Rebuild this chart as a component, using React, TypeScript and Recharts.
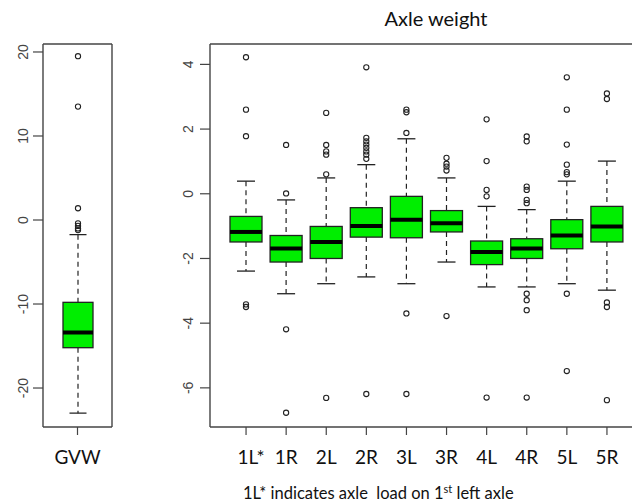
import React from 'react';
import { ComposedChart, Bar, XAxis, YAxis } from 'recharts';

// ---- Gross vehicle weight (single box) ----
const gvwNames = ['GVW'];
const gvwLowWhisker = [-23.0];
const gvwQ1 = [-15.2];
const gvwMedian = [-13.4];
const gvwQ3 = [-9.8];
const gvwHighWhisker = [-1.75];
const gvwOutliers = [[19.5, 13.5, 1.4, -0.4, -0.7, -1.0, -1.2]];
const gvwTicks = [-20, -10, 0, 10, 20];
const gvwDomain = [-24.64, 20.95];

// ---- Axle weights ----
const axleNames = ['1L*', '1R', '2L', '2R', '3L', '3R', '4L', '4R', '5L', '5R'];
const axleLowWhisker = [-2.39, -3.09, -2.78, -2.57, -2.78, -2.11, -2.88, -2.88, -2.78, -2.98];
const axleQ1 = [-1.49, -2.11, -2.0, -1.34, -1.36, -1.18, -2.19, -2.0, -1.7, -1.49];
const axleMedian = [-1.18, -1.69, -1.49, -1.0, -0.8, -0.91, -1.8, -1.69, -1.29, -1.01];
const axleQ3 = [-0.7, -1.29, -1.01, -0.43, -0.08, -0.52, -1.46, -1.39, -0.8, -0.39];
const axleHighWhisker = [0.39, -0.19, 0.49, 0.9, 1.7, 0.49, -0.39, -0.49, 0.39, 1.01];
const axleOutliers = [
  [4.22, 2.6, 1.78, -3.42, -3.5],
  [1.51, 0.01, -4.19, -6.77],
  [2.5, 1.51, 1.31, 1.21, 0.6, -6.31],
  [3.91, 1.73, 1.62, 1.52, 1.42, 1.31, 1.21, 1.08, -6.19],
  [2.6, 2.52, 1.88, -3.7, -6.19],
  [1.11, 0.93, 0.84, 0.72, -3.78],
  [2.3, 1.01, 0.12, -0.08, -6.3],
  [1.77, 1.62, 0.22, 0.12, -0.19, -0.29, -3.09, -3.29, -3.6, -6.3],
  [3.6, 2.6, 1.52, 0.9, 0.67, 0.6, -3.09, -5.48],
  [3.1, 2.93, -3.36, -3.5, -6.38],
];
const axleTicks = [-6, -4, -2, 0, 2, 4];
const axleDomain = [-7.21, 4.63];

const FRAME = '#444';
const TICK_FONT = '"Liberation Sans", Arial, sans-serif';
const LABEL_FONT = 'Lato, "Open Sans", sans-serif';

type Row = {
  name: string;
  range: [number, number];
  lo: number;
  q1: number;
  med: number;
  q3: number;
  hi: number;
  outliers: number[];
};

function buildRows(
  names: string[],
  lo: number[],
  q1: number[],
  med: number[],
  q3: number[],
  hi: number[],
  out: number[][]
): Row[] {
  return names.map((name, i) => ({
    name,
    range: [lo[i], hi[i]],
    lo: lo[i],
    q1: q1[i],
    med: med[i],
    q3: q3[i],
    hi: hi[i],
    outliers: out[i],
  }));
}

const gvwRows = buildRows(gvwNames, gvwLowWhisker, gvwQ1, gvwMedian, gvwQ3, gvwHighWhisker, gvwOutliers);
const axleRows = buildRows(axleNames, axleLowWhisker, axleQ1, axleMedian, axleQ3, axleHighWhisker, axleOutliers);

// Box-and-whisker glyph drawn on top of the whisker-to-whisker range bar.
// The bar's pixel extent gives the y scale used for the quartiles and outliers.
const BoxShape = (props: any) => {
  const { x, y, width, height, payload } = props;
  if (!payload) return null;
  const { lo, hi, q1, med, q3, outliers } = payload as Row;
  const top = Math.min(y, y + height);
  const h = Math.abs(height);
  const k = h / (hi - lo);
  const py = (v: number) => top + (hi - v) * k;
  const cx = x + width / 2;
  const cap = width / 2;
  return (
    <g>
      <line x1={cx} x2={cx} y1={py(hi)} y2={py(q3)} stroke="#222" strokeWidth={1.2} strokeDasharray="5 4" />
      <line x1={cx} x2={cx} y1={py(q1)} y2={py(lo)} stroke="#222" strokeWidth={1.2} strokeDasharray="5 4" />
      <line x1={cx - cap / 2 - 1} x2={cx + cap / 2 + 1} y1={py(hi)} y2={py(hi)} stroke="#222" strokeWidth={1.3} />
      <line x1={cx - cap / 2 - 1} x2={cx + cap / 2 + 1} y1={py(lo)} y2={py(lo)} stroke="#222" strokeWidth={1.3} />
      <rect x={x} y={py(q3)} width={width} height={py(q1) - py(q3)} fill="#00ee00" stroke="#222" strokeWidth={1.3} />
      <line x1={x} x2={x + width} y1={py(med)} y2={py(med)} stroke="#000" strokeWidth={4} />
      {outliers.map((v, i) => (
        <circle key={i} cx={cx} cy={py(v)} r={2.6} fill="none" stroke="#222" strokeWidth={1.1} />
      ))}
    </g>
  );
};

const makeYTick = (shift: number) => (props: any) => {
  const { x, y, payload } = props;
  const tx = x + shift;
  return (
    <text
      x={tx}
      y={y}
      transform={`rotate(-90 ${tx} ${y})`}
      textAnchor="middle"
      fontFamily={TICK_FONT}
      fontSize={14}
      fill="#444"
    >
      {payload.value}
    </text>
  );
};

const CategoryTick = (props: any) => {
  const { x, y, payload } = props;
  const label = String(payload.value);
  const dx = label.endsWith('*') ? 5 : 0;
  return (
    <text x={x + dx} y={y} dy={26.5} textAnchor="middle" fontFamily={LABEL_FONT} fontSize={19} fill="#111">
      {label}
    </text>
  );
};

const axisLine = { stroke: FRAME, strokeWidth: 1.4 };
const tickLine = { stroke: FRAME, strokeWidth: 1.2 };

export default function App() {
  return (
    <div
      style={{
        position: 'absolute',
        left: 0,
        top: 0,
        width: 632,
        height: 504,
        overflow: 'hidden',
        background: '#fff',
      }}
    >
      {/* GVW panel */}
      <div style={{ position: 'absolute', left: 0, top: 0 }}>
        <ComposedChart width={150} height={504} data={gvwRows} margin={{ top: 43, right: 0, bottom: 0, left: 0 }}>
          <XAxis
            xAxisId="b"
            dataKey="name"
            type="category"
            height={77}
            axisLine={axisLine}
            tickLine={tickLine}
            tickSize={8}
            tick={<CategoryTick />}
            interval={0}
          />
          <XAxis xAxisId="t" dataKey="name" orientation="top" height={1} axisLine={axisLine} tick={false} tickLine={false} />
          <YAxis
            yAxisId="l"
            type="number"
            domain={gvwDomain}
            ticks={gvwTicks}
            allowDataOverflow
            width={43}
            axisLine={axisLine}
            tickLine={tickLine}
            tickSize={10}
            tick={makeYTick(-3.2)}
          />
          <YAxis
            yAxisId="r"
            orientation="right"
            type="number"
            domain={gvwDomain}
            allowDataOverflow
            width={38}
            axisLine={axisLine}
            tick={false}
            tickLine={false}
          />
          <Bar
            xAxisId="b"
            yAxisId="l"
            dataKey="range"
            barSize={30}
            isAnimationActive={false}
            shape={(p: any) => <BoxShape {...p} />}
          />
        </ComposedChart>
      </div>

      {/* Axle panel */}
      <div style={{ position: 'absolute', left: 150, top: 0 }}>
        <ComposedChart width={530} height={504} data={axleRows} margin={{ top: 43, right: 0, bottom: 0, left: 0 }}>
          <XAxis
            xAxisId="b"
            dataKey="name"
            type="category"
            height={77}
            padding={{ left: 16, right: 16 }}
            axisLine={axisLine}
            tickLine={tickLine}
            tickSize={8}
            tick={<CategoryTick />}
            interval={0}
          />
          <XAxis xAxisId="t" dataKey="name" orientation="top" height={1} axisLine={axisLine} tick={false} tickLine={false} />
          <YAxis
            yAxisId="l"
            type="number"
            domain={axleDomain}
            ticks={axleTicks}
            allowDataOverflow
            width={60}
            axisLine={axisLine}
            tickLine={tickLine}
            tickSize={10}
            tick={makeYTick(-5.1)}
          />
          <YAxis
            yAxisId="r"
            orientation="right"
            type="number"
            domain={axleDomain}
            allowDataOverflow
            width={37}
            axisLine={axisLine}
            tick={false}
            tickLine={false}
          />
          <Bar
            xAxisId="b"
            yAxisId="l"
            dataKey="range"
            barSize={32}
            isAnimationActive={false}
            shape={(p: any) => <BoxShape {...p} />}
          />
        </ComposedChart>
      </div>

      <div
        style={{
          position: 'absolute',
          left: 336,
          top: 6,
          width: 200,
          textAlign: 'center',
          fontFamily: LABEL_FONT,
          fontSize: 20,
          color: '#111',
          whiteSpace: 'nowrap',
        }}
      >
        Axle weight
      </div>

      <div
        style={{
          position: 'absolute',
          left: 243,
          top: 484,
          fontFamily: LABEL_FONT,
          fontSize: 16.5,
          color: '#111',
          whiteSpace: 'pre',
          lineHeight: '18px',
        }}
      >
        1L* indicates axle  load on 1<sup style={{ fontSize: 11, verticalAlign: 'top', lineHeight: '10px' }}>st</sup> left axle
      </div>
    </div>
  );
}
